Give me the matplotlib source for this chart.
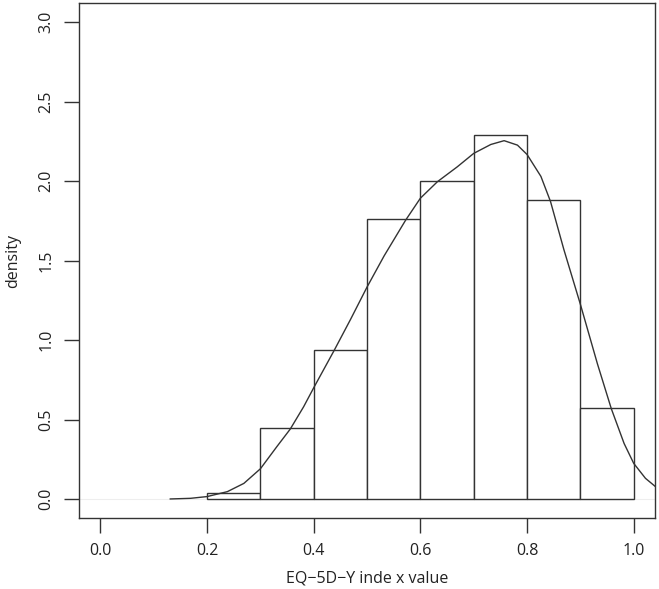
import numpy as np
import matplotlib.pyplot as plt

# histogram bins and densities
bin_edges = [0.2, 0.3, 0.4, 0.5, 0.6, 0.7, 0.8, 0.9, 1.0]
densities = [0.035, 0.445, 0.94, 1.76, 2.0, 2.29, 1.88, 0.57]

# density curve, points
curve_x = [0.131, 0.169, 0.2, 0.238, 0.269, 0.3, 0.331, 0.356, 0.381, 0.4,
           0.438, 0.469, 0.5, 0.532, 0.572, 0.6, 0.632, 0.669, 0.7, 0.732,
           0.757, 0.782, 0.8, 0.826, 0.844, 0.869, 0.9, 0.932, 0.958, 0.982,
           1.0, 1.022, 1.041, 1.06]
curve_y = [0.0, 0.004, 0.015, 0.046, 0.098, 0.19, 0.33, 0.44, 0.58, 0.70,
           0.933, 1.13, 1.334, 1.53, 1.753, 1.893, 1.997, 2.09, 2.175, 2.231,
           2.255, 2.227, 2.168, 2.03, 1.872, 1.57, 1.225, 0.85, 0.568, 0.349,
           0.224, 0.13, 0.077, 0.045]

x_ticks = [0.0, 0.2, 0.4, 0.6, 0.8, 1.0]
y_ticks = [0.0, 0.5, 1.0, 1.5, 2.0, 2.5, 3.0]

plt.rcParams['font.family'] = ['Open Sans', 'DejaVu Sans']

fig = plt.figure(figsize=(6.59, 5.89), dpi=100)
ax = fig.add_axes([0.12, 0.1205, 0.874, 0.874])

ax.axhline(0, color='#eeeeee', lw=0.8, zorder=0)
widths = np.diff(bin_edges)
ax.bar(bin_edges[:-1], densities, width=widths, align='edge',
       facecolor='white', edgecolor='#333333', linewidth=1.0)
ax.plot(curve_x, curve_y, color='#333333', lw=1.0, solid_joinstyle='round')

ax.set_xlim(-0.04, 1.04)
ax.set_ylim(-0.12, 3.12)
ax.set_xticks(x_ticks)
ax.set_xticklabels([f"{v:.1f}" for v in x_ticks])
ax.set_yticks(y_ticks)
ax.set_yticklabels([f"{v:.1f}" for v in y_ticks], rotation=90, va='center')
ax.tick_params(direction='out', length=11, width=1.0, labelsize=11.5,
               color='#333333', labelcolor='#222222', pad=7)

for s in ax.spines.values():
    s.set_color('#333333')
    s.set_linewidth(1.0)

ax.set_xlabel("EQ\u22125D\u2212Y inde x value", fontsize=11.5, color='#222222', labelpad=8)
ax.set_ylabel("density", fontsize=11.5, color='#222222', labelpad=12)

fig.savefig("out.png", dpi=100)
